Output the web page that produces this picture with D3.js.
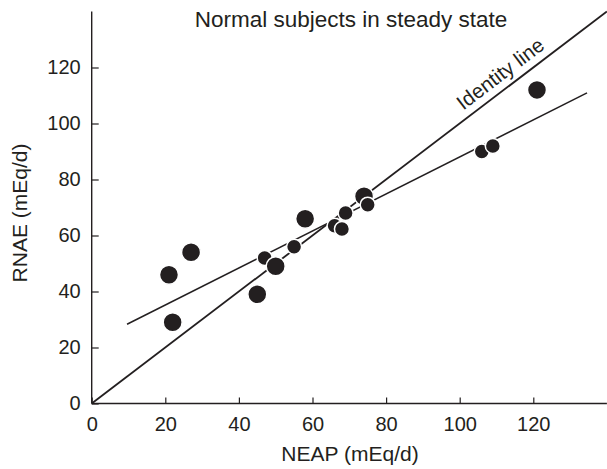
<!DOCTYPE html>
<html><head><meta charset="utf-8">
<script src="https://cdn.jsdelivr.net/npm/d3@7"></script>
<style>body{margin:0;background:#fff}svg{display:block}text{font-family:"Liberation Sans",Arial,sans-serif;fill:#231f20}</style>
</head><body>
<svg id="c" width="607" height="469"></svg>
<script>
const neap = [21, 22, 27, 45, 47, 50, 55, 58, 66, 68, 69, 74, 75, 106, 109, 121];
const rnae = [46, 29, 54, 39, 52, 49, 56, 66, 63.5, 62.3, 68, 74, 71, 90, 92, 112];
const size = ["L","L","L","L","S","L","S","L","S","S","S","L","S","S","S","L"];
const xTicks = [0, 20, 40, 60, 80, 100, 120];
const yTicks = [0, 20, 40, 60, 80, 100, 120];
const regX = [9.6, 134.6];
const regSlope = 0.661, regIntercept = 21.95;
const identX = [0, 140];

const svg = d3.select("#c");
const x = d3.scaleLinear().domain([0, 140]).range([91.7, 606.9]);
const y = d3.scaleLinear().domain([0, 140]).range([403.5, 11.5]);
const ink = "#231f20";

const gx = svg.append("g").attr("transform", `translate(0,${y(0)})`)
  .call(d3.axisBottom(x).tickValues(xTicks).tickSize(-6).tickPadding(13));
const gy = svg.append("g").attr("transform", `translate(${x(0)},0)`)
  .call(d3.axisLeft(y).tickValues(yTicks).tickSize(-7).tickPadding(11));
[gx, gy].forEach(g => {
  g.select(".domain").attr("stroke", ink).attr("stroke-width", 1.4);
  g.selectAll(".tick line").attr("stroke", ink).attr("stroke-width", 1.2);
  g.selectAll(".tick text").attr("font-size", 20).attr("font-family", "Liberation Sans, Arial, sans-serif").attr("fill", ink);
});
gx.select(".domain").attr("d", `M${x(0)},0H${x(140)}`);
gy.select(".domain").attr("d", `M0,${y(0)}V${y(140)}`);

// lines
const line = d3.line().x(d => x(d[0])).y(d => y(d[1]));
svg.append("path").datum(identX.map(v => [v, v])).attr("d", line)
  .attr("stroke", ink).attr("stroke-width", 1.8).attr("fill", "none");
svg.append("path").datum(regX.map(v => [v, regIntercept + regSlope * v])).attr("d", line)
  .attr("stroke", ink).attr("stroke-width", 1.5).attr("fill", "none");

// points
svg.append("g").selectAll("circle").data(neap.map((v, i) => ({x: v, y: rnae[i], s: size[i]})))
  .join("circle")
  .attr("cx", d => x(d.x)).attr("cy", d => y(d.y))
  .attr("r", d => d.s === "L" ? 9.5 : 7.5)
  .attr("fill", ink).attr("stroke", "#fff").attr("stroke-width", 1.5);

// labels
svg.append("text").attr("x", 351).attr("y", 27).attr("text-anchor", "middle")
  .attr("font-size", 22.5).text("Normal subjects in steady state");
svg.append("text").attr("x", 350).attr("y", 461).attr("text-anchor", "middle")
  .attr("font-size", 21).text("NEAP (mEq/d)");
svg.append("text").attr("transform", `translate(27,213) rotate(-90)`).attr("text-anchor", "middle")
  .attr("font-size", 21).text("RNAE (mEq/d)");
const ang = Math.atan2(y(0) - y(1), x(1) - x(0));
const px = x(113.5) - 8 * Math.sin(ang), py = y(113.5) - 8 * Math.cos(ang);
svg.append("text").attr("transform", `translate(${px},${py}) rotate(${-ang * 180 / Math.PI})`)
  .attr("text-anchor", "middle").attr("font-size", 20.5).text("Identity line");
</script>
</body></html>
